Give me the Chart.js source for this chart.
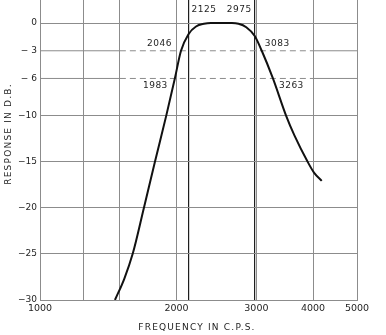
<!DOCTYPE html>
<html lang="en">
<head>
<meta charset="UTF-8">
<title>Filter Response</title>
<script src="https://cdn.jsdelivr.net/npm/chart.js"></script>
<style>
  html, body { margin: 0; padding: 0; background: #fff; }
  #wrap { width: 386px; height: 335px; }
</style>
</head>
<body>
<div id="wrap"><canvas id="responseChart"></canvas></div>
<script>
// measured response curve: frequency (c.p.s.) and response (db)
const freqs = [1463, 1534, 1601, 1695, 1793, 1899, 1983, 2046, 2125, 2208, 2299, 2382, 2650, 2740, 2850, 2975, 3083, 3263, 3486, 3641, 3889, 4019, 4180];
const response = [-30, -27.7, -25, -20, -15, -10, -6, -3, -1.2, -0.37, -0.08, 0, 0, -0.08, -0.45, -1.4, -3, -6, -10, -12.2, -15, -16.2, -17.1];

// axis divisions
const xGrid = [1000, 1250, 1500, 2000, 2125, 2975, 3000, 4000, 5000];
const xLabelled = [1000, 2000, 3000, 4000, 5000];
const yGrid = [-30, -25, -20, -15, -10, -6, -3, 0];

// band edges marked with vertical lines, and the -3 / -6 db crossings
const edgeFreqs = [2125, 2975];
const dashedLevels = [-3, -6];
const dashedSpan = [1000, 1500, 4000, 5000];   // dashed between the middle two
const crossFreqs = [2046, 1983, 3083, 3263];
const crossLevels = [-3, -6, -3, -6];

const ink = '#1e1e1e';
const gridGray = '#8c8c8c';

function levelLine(level) {
    return {
        data: dashedSpan.map(f => ({ x: f, y: level })),
        borderColor: gridGray,
        borderWidth: 1,
        pointRadius: 0,
        order: 2,
        segment: {
            borderDash: c => c.p0DataIndex === 1 ? [6, 4] : undefined
        }
    };
}

// labels for the band edges, the crossings, and the two axis titles
const textPlugin = {
    id: 'responseText',
    afterDatasetsDraw(chart) {
        const { ctx, scales: { x, y }, chartArea } = chart;
        ctx.save();
        ctx.fillStyle = ink;
        ctx.textBaseline = 'middle';
        ctx.font = '9px "DejaVu Sans"';
        ctx.letterSpacing = '0.5px';

        ctx.textAlign = 'left';
        ctx.fillText(String(edgeFreqs[0]), x.getPixelForValue(edgeFreqs[0]) + 3, chartArea.top + 10);
        ctx.textAlign = 'right';
        ctx.fillText(String(edgeFreqs[1]), x.getPixelForValue(edgeFreqs[1]) - 3, chartArea.top + 10);

        crossFreqs.forEach((f, i) => {
            const px = x.getPixelForValue(f);
            const py = y.getPixelForValue(crossLevels[i]);
            const below = crossLevels[i] === -6;
            const dy = below ? 7 : -7;
            if (f < 2500) {
                ctx.textAlign = 'right';
                ctx.fillText(String(f), px - (below ? 7 : 9), py + dy);
            } else {
                ctx.textAlign = 'left';
                ctx.fillText(String(f), px + (below ? 6 : 3), py + dy);
            }
        });

        ctx.letterSpacing = '1.2px';
        ctx.textAlign = 'center';
        ctx.fillText('FREQUENCY IN C.P.S.', 197, 328);

        ctx.translate(9, 134);
        ctx.rotate(-Math.PI / 2);
        ctx.fillText('RESPONSE IN D.B.', 0, 0);
        ctx.restore();
    }
};

const chart = new Chart(document.getElementById('responseChart'), {
    type: 'line',
    data: {
        datasets: [
            {
                data: freqs.map((f, i) => ({ x: f, y: response[i] })),
                borderColor: '#111',
                borderWidth: 2,
                pointRadius: 0,
                cubicInterpolationMode: 'monotone',
                order: 1
            },
            ...dashedLevels.map(levelLine)
        ]
    },
    options: {
        responsive: true,
        maintainAspectRatio: false,
        animation: false,
        layout: { padding: { top: 0, right: 29, bottom: 0, left: 0 } },
        plugins: {
            legend: { display: false },
            tooltip: { enabled: false }
        },
        scales: {
            x: {
                type: 'logarithmic',
                min: 1000,
                max: 5000,
                afterBuildTicks: s => { s.ticks = xGrid.map(v => ({ value: v })); },
                afterFit: s => { s.height = 35; },
                ticks: {
                    autoSkip: false,
                    maxRotation: 0,
                    padding: 3,
                    color: ink,
                    font: { family: 'DejaVu Sans', size: 9.5 },
                    callback: v => xLabelled.includes(v) ? String(v) : ''
                },
                grid: {
                    drawTicks: false,
                    color: c => edgeFreqs.includes(c.tick && c.tick.value) ? ink : gridGray,
                    lineWidth: c => edgeFreqs.includes(c.tick && c.tick.value) ? 1.2 : 1
                },
                border: { color: gridGray }
            },
            y: {
                type: 'linear',
                min: -30,
                max: 2.5,
                afterBuildTicks: s => { s.ticks = yGrid.map(v => ({ value: v })); },
                afterFit: s => {
                    s.width = 40;
                    // the top of the plot runs off the sheet, no room kept for labels
                    s.paddingTop = 0;
                    s.paddingBottom = 0;
                },
                ticks: {
                    padding: 3,
                    color: ink,
                    font: { family: 'DejaVu Sans', size: 9 },
                    callback: v => v === 0 ? '0' : (Math.abs(v) < 10 ? '\u2212 ' : '\u2212') + Math.abs(v)
                },
                grid: {
                    drawTicks: false,
                    color: c => dashedLevels.includes(c.tick && c.tick.value) ? 'rgba(0,0,0,0)' : gridGray
                },
                border: { color: gridGray }
            }
        }
    },
    plugins: [textPlugin]
});
</script>
</body>
</html>
